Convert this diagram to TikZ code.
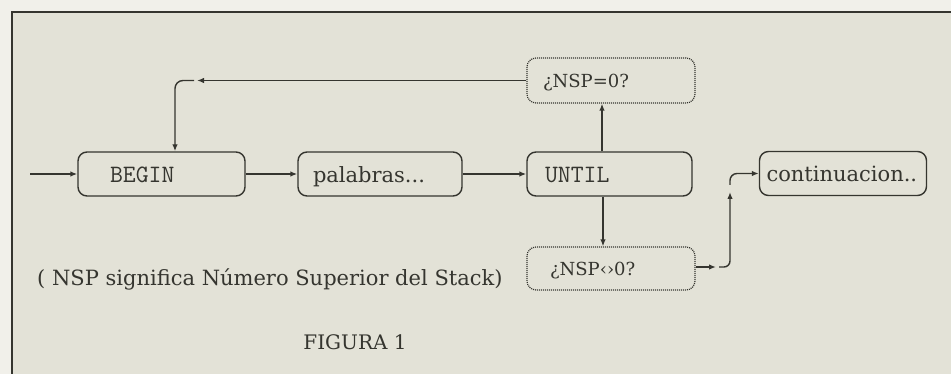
\documentclass[tikz,border=0pt]{standalone}
\usepackage{fontspec}
\setmainfont{DejaVu Serif}
\usetikzlibrary{arrows.meta}
\definecolor{paper}{HTML}{E3E2D7}
\definecolor{outer}{HTML}{F1F0EA}
\definecolor{ink}{HTML}{35352F}
\tikzset{
  box/.style={draw=ink, text=ink, line width=1.4pt, rounded corners=9pt,
    minimum height=44pt, inner ysep=0pt, align=left,
    text height=17pt, text depth=0pt},
  dbox/.style={box, line width=1.2pt, dash pattern=on 1pt off 1pt},
  arr/.style={draw=ink, line width=1.4pt, -{Latex[length=7pt,width=5.5pt]}},
  fserif/.style={font=\fontsize{21pt}{21pt}\selectfont},
  fmono/.style={font=\ttfamily\fontsize{25pt}{25pt}\selectfont},
  fsmall/.style={font=\fontsize{18pt}{18pt}\selectfont},
  caption/.style={text=ink, inner sep=0pt}
}
\begin{document}
\begin{tikzpicture}[x=1pt,y=-1pt]
\fill[outer] (0,0) rectangle (951,374);
\useasboundingbox (0,0) rectangle (951,374);
\fill[paper] (12,12) rectangle (951,374);
\draw[ink, line width=2.5pt] (12,374) -- (12,12) -- (951,12);

\node[box, fmono, inner xsep=32pt, text width=103pt] (begin) at (161.5,174) {BEGIN};
\node[box, fserif, inner xsep=15pt, text width=134pt] (pal) at (380,174) {palabras...};
\node[box, fmono, inner xsep=18pt, text width=129pt] (until) at (609.5,174) {UNTIL};
\node[box, fserif, inner xsep=7pt, text width=153pt] (cont) at (843,173.5) {continuacion..};
\node[dbox, fsmall, inner xsep=16pt, text width=136pt, minimum height=45pt, text height=15pt] (nsp0) at (611,80.5) {¿NSP=0?};
\node[dbox, fsmall, inner xsep=23pt, text width=122pt, minimum height=43pt, text height=15pt] (nspne) at (611,268.5) {¿NSP‹›0?};

\node[caption, fserif, anchor=west] (note) at (37,279) {( NSP significa Número Superior del Stack)};
\node[caption, font=\fontsize{20pt}{20pt}\selectfont] (fig) at (355,342) {FIGURA 1};

\coordinate (start) at (30,174);
\draw[arr] (start) -- (begin.west);
\draw[arr] (begin.east) -- (pal.west);
\draw[arr] (pal.east) -- (until.west);

\coordinate (v1) at (602,0);
\draw[arr] (v1 |- until.north) -- (v1 |- nsp0.south);
\coordinate (v2) at (603,0);
\draw[arr] (v2 |- until.south) -- (v2 |- nspne.north);

\coordinate (fb1) at (197,80.5);
\coordinate (fb0) at (194,80.5);
\coordinate (fb2) at (175,80.5);
\draw[arr] (nsp0.west) -- (fb1);
\draw[arr, rounded corners=8pt] (fb0) -- (fb2) -- (fb2 |- begin.north);

\coordinate (r1) at (716,267);
\coordinate (r0) at (719,267);
\coordinate (r2) at (730,267);
\coordinate (r3) at (730,192);
\coordinate (r4) at (730,185);
\draw[arr] (nspne.east |- r1) -- (r1);
\draw[arr, rounded corners=6pt] (r0) -- (r2) -- (r3);
\draw[arr, rounded corners=7pt] (r4) -- (r4 |- cont.west) -- (cont.west);
\end{tikzpicture}
\end{document}
